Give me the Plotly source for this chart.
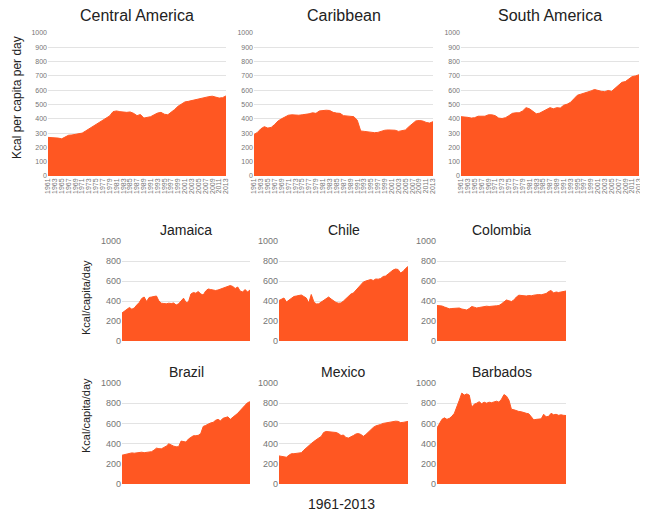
import plotly.graph_objects as go

years = list(range(1961, 2014))

central_america = [270, 270, 268, 265, 260, 272, 285, 287, 290, 295, 300, 315, 330, 345, 358, 372, 390, 405,
                   420, 450, 455, 450, 445, 445, 448, 438, 422, 430, 405, 408, 415, 428, 440, 445, 432, 428,
                   445, 465, 488, 505, 518, 522, 528, 535, 542, 548, 552, 555, 558, 552, 545, 548, 560]
caribbean = [290, 305, 330, 345, 335, 340, 360, 385, 400, 410, 425, 428, 425, 425, 428, 430, 435, 442,
             438, 455, 460, 460, 458, 445, 440, 438, 422, 420, 418, 415, 390, 315, 312, 308, 302, 303,
             305, 315, 320, 322, 322, 320, 312, 315, 322, 345, 365, 385, 388, 385, 375, 370, 380]
south_america = [415, 415, 410, 405, 408, 418, 420, 418, 428, 428, 422, 405, 402, 408, 422, 438, 442, 442,
                 455, 478, 470, 450, 435, 440, 452, 468, 478, 470, 478, 475, 495, 502, 515, 540, 565, 572,
                 578, 585, 595, 605, 598, 592, 590, 598, 592, 612, 632, 655, 660, 675, 695, 700, 708]
jamaica = [280, 300, 320, 335, 318, 330, 360, 385, 425, 440, 395, 435, 440, 445, 450, 400, 378, 375,
           372, 378, 375, 380, 360, 372, 405, 428, 385, 390, 470, 485, 478, 495, 470, 460, 500, 520,
           515, 510, 505, 510, 520, 530, 540, 550, 555, 545, 525, 540, 500, 490, 515, 490, 510]
chile = [405, 415, 430, 390, 410, 425, 445, 450, 455, 460, 445, 430, 380, 465, 395, 370, 372, 390,
         410, 430, 440, 420, 400, 385, 378, 380, 400, 425, 450, 470, 480, 510, 540, 570, 590, 600,
         610, 615, 605, 620, 618, 625, 645, 650, 670, 690, 710, 720, 715, 680, 695, 725, 745]
colombia = [355, 355, 350, 340, 330, 322, 325, 328, 325, 330, 320, 315, 310, 325, 345, 338, 330, 335,
            340, 345, 348, 345, 350, 350, 352, 355, 372, 395, 410, 402, 395, 410, 440, 458, 455, 452,
            450, 455, 452, 458, 462, 465, 462, 470, 475, 495, 505, 480, 490, 485, 490, 495, 500]
brazil = [285, 290, 295, 305, 308, 305, 310, 312, 315, 310, 315, 318, 320, 335, 355, 350, 348, 362,
          375, 398, 385, 375, 368, 370, 425, 420, 415, 445, 460, 478, 478, 482, 500, 570, 580, 595,
          605, 610, 630, 640, 625, 650, 655, 665, 640, 665, 680, 700, 730, 755, 780, 805, 815]
mexico = [278, 275, 272, 265, 285, 300, 300, 302, 305, 310, 335, 360, 380, 400, 420, 440, 455, 470,
          510, 520, 518, 515, 510, 510, 500, 480, 485, 460, 455, 465, 480, 495, 500, 490, 472, 490,
          515, 540, 560, 575, 580, 590, 600, 605, 610, 612, 618, 622, 620, 608, 610, 612, 620]
barbados = [555, 600, 640, 655, 640, 650, 670, 700, 760, 830, 900, 880, 892, 880, 760, 790, 800, 815,
            795, 810, 800, 810, 805, 815, 820, 810, 840, 885, 870, 830, 740, 735, 725, 718, 715, 705,
            700, 695, 660, 635, 640, 640, 645, 690, 665, 670, 700, 685, 690, 680, 685, 680, 678]

region_names = ['Central America', 'Caribbean', 'South America']
country_names = ['Jamaica', 'Chile', 'Colombia', 'Brazil', 'Mexico', 'Barbados']

# page body has an 8px margin, so the figure is drawn 8px in from the window edge
OFF = 8
W, H = 648 - OFF, 515 - OFF
fill = '#FF5722'
grid = '#e3e3e3'
tick_col = '#757575'
font = 'Liberation Sans, Arial, sans-serif'

def px(x):
    return (x - OFF) / W

def py(y):
    return 1 - (y - OFF) / H

# panel boxes in window pixels: (left, right, top(1000), bottom(0))
panels = [
    (48, 226, 33, 176), (254, 433, 33, 176), (461, 639, 33, 176),
    (122, 250, 241, 341), (279, 408, 241, 341), (437, 566, 241, 341),
    (122, 250, 383, 484), (279, 408, 383, 484), (437, 566, 383, 484),
]
series = [central_america, caribbean, south_america, jamaica, chile, colombia, brazil, mexico, barbados]
titles = region_names + country_names

fig = go.Figure()
layout = {}
annotations = []

for i, (vals, box) in enumerate(zip(series, panels)):
    n = '' if i == 0 else str(i + 1)
    left, right, top, bottom = box
    fig.add_trace(go.Scatter(
        x=years, y=vals, xaxis='x' + n, yaxis='y' + n,
        mode='lines', fill='tozeroy', fillcolor=fill,
        line=dict(color=fill, width=1), hoverinfo='x+y', showlegend=False))
    big = i < 3
    xa = dict(domain=[px(left), px(right)], range=[1961, 2013], anchor='y' + n, automargin=False,
              showgrid=False, zeroline=False, showline=False, fixedrange=True)
    if big:
        xa.update(tickvals=years[::2], ticktext=[str(y) for y in years[::2]],
                  tickangle=-90, tickfont=dict(size=7, color=tick_col, family=font), ticks='')
    else:
        xa.update(showticklabels=False)
    ya = dict(domain=[py(bottom), py(top)], range=[0, 1000], anchor='x' + n, automargin=False,
              dtick=100 if big else 200, gridcolor=grid, gridwidth=1,
              zeroline=False, showline=False, fixedrange=True,
              tickfont=dict(size=7 if big else 9, color=tick_col, family=font))
    layout['xaxis' + n] = xa
    layout['yaxis' + n] = ya
    annotations.append(dict(
        text=titles[i], x=px((left + right) / 2), y=py(16 if big else top - 11),
        xref='paper', yref='paper', showarrow=False, xanchor='center', yanchor='middle',
        font=dict(size=16 if big else 14, color='#222', family=font)))

annotations += [
    dict(text='Kcal per capita per day', x=px(17), y=py(98), textangle=-90,
         font=dict(size=12, color='#222', family=font)),
    dict(text='Kcal/capita/day', x=px(86), y=py(298), textangle=-90,
         font=dict(size=11, color='#222', family=font)),
    dict(text='Kcal/capita/day', x=px(86), y=py(416), textangle=-90,
         font=dict(size=11, color='#222', family=font)),
    dict(text='1961-2013', x=px(341), y=py(504),
         font=dict(size=14, color='#222', family=font)),
]
for a in annotations[9:]:
    a.update(xref='paper', yref='paper', showarrow=False, xanchor='center', yanchor='middle')

fig.update_layout(
    width=W, height=H, margin=dict(l=0, r=0, t=0, b=0),
    plot_bgcolor='white', paper_bgcolor='white',
    annotations=annotations, **layout)

fig.write_html("out.html")
